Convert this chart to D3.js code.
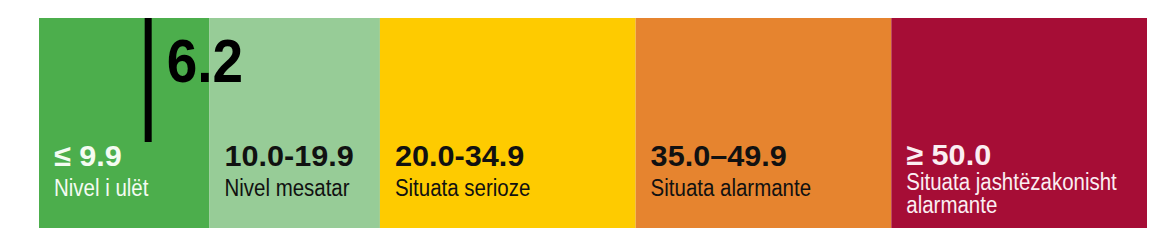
<!DOCTYPE html>
<html>
<head>
<meta charset="utf-8">
<script src="https://cdn.jsdelivr.net/npm/d3@7"></script>
<style>
  html, body { margin: 0; padding: 0; background: #fff; }
  svg { display: block; font-family: "Liberation Sans", Arial, sans-serif; }
</style>
</head>
<body>
<div id="chart"></div>
<script>
// severity scale bounds (GHI score)
const bounds = [0, 10, 20, 35, 50, 65];
const rangeLabels = ["≤ 9.9", "10.0-19.9", "20.0-34.9", "35.0–49.9", "≥ 50.0"];
const severityLabels = [
  ["Nivel i ulët"],
  ["Nivel mesatar"],
  ["Situata serioze"],
  ["Situata alarmante"],
  ["Situata jashtëzakonisht", "alarmante"]
];
const score = 6.2;

const width = 1150, height = 245;
const barTop = 18, barBottom = 228;
const pad = 15;

const svg = d3.select('#chart')
  .append('svg')
  .attr('width', width)
  .attr('height', height);

const x = d3.scaleLinear()
  .domain([bounds[0], bounds[bounds.length - 1]])
  .range([39, 1147]);

const color = d3.scaleOrdinal()
  .domain(d3.range(rangeLabels.length))
  .range(['#4cae4c', '#97cc97', '#fecb00', '#e6842f', '#a60d36']);

const textColor = d3.scaleOrdinal()
  .domain(d3.range(rangeLabels.length))
  .range(['#f4fbf2', '#111', '#111', '#111', '#fbeef2']);

const segments = rangeLabels.map((label, i) => ({
  i,
  from: bounds[i],
  to: bounds[i + 1],
  label,
  lines: severityLabels[i]
}));

const seg = svg.selectAll('g.seg')
  .data(segments)
  .enter()
  .append('g')
  .attr('class', 'seg');

seg.append('rect')
  .attr('x', d => x(d.from))
  .attr('y', barTop)
  .attr('width', d => x(d.to) - x(d.from))
  .attr('height', barBottom - barTop)
  .attr('fill', d => color(d.i));

// range value (bold)
seg.append('text')
  .attr('transform', d => `translate(${x(d.from) + pad},${d.lines.length > 1 ? 165 : 166}) scale(1.02,1)`)
  .attr('font-size', 30)
  .attr('font-weight', 'bold')
  .attr('fill', d => textColor(d.i))
  .text(d => d.label);

// description, one text with a tspan per line
seg.append('text')
  .attr('transform', d => `translate(${x(d.from) + pad},${196 - (d.lines.length - 1) * 6}) scale(0.89,1)`)
  .attr('font-size', 23)
  .attr('fill', d => textColor(d.i))
  .selectAll('tspan')
  .data(d => d.lines)
  .enter()
  .append('tspan')
  .attr('x', 0)
  .attr('dy', (d, k) => k === 0 ? 0 : 23)
  .text(d => d);

// score marker
svg.append('rect')
  .attr('x', x(score))
  .attr('y', barTop)
  .attr('width', 7)
  .attr('height', 142 - barTop)
  .attr('fill', '#000');

svg.append('text')
  .attr('transform', `translate(${x(score) + 22},82) scale(0.9,1)`)
  .attr('font-size', 61)
  .attr('font-weight', 'bold')
  .attr('fill', '#000')
  .text(d3.format('.1f')(score));
</script>
</body>
</html>
